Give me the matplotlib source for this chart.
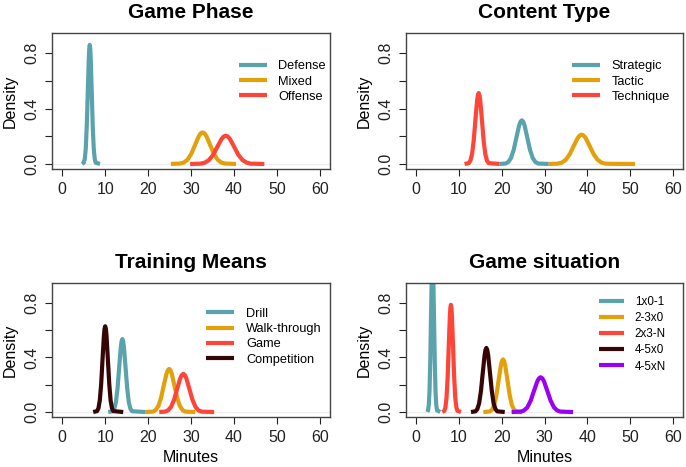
import numpy as np
import matplotlib
matplotlib.use('Agg')
import matplotlib.pyplot as plt

plt.rcParams['font.family'] = ['Liberation Sans', 'DejaVu Sans']

TEAL = '#5aa3ad'
ORANGE = '#e2a00b'
RED = '#ff4438'
DARK = '#360606'
PURPLE = '#9a00f5'

# ---- density curves (x in minutes, y density) ----

# Game Phase
defense_x = [4.6, 5.02, 5.25, 5.48, 5.71, 5.94, 6.17, 6.29, 6.4, 6.52, 6.63, 6.86, 7.09, 7.32, 7.55, 7.78, 8.8]
defense_y = [0, .009, .038, .116, .280, .522, .759, .833, .86, .833, .759, .522, .280, .116, .038, .009, 0]
mixed_x = [25.3, 27.45, 28.33, 29.2, 30.08, 30.95, 31.83, 32.26, 32.7, 33.14, 33.58, 34.45, 35.33, 36.2, 37.08, 37.95, 40.5]
mixed_y = [0, .003, .010, .031, .074, .138, .201, .221, .228, .221, .201, .138, .074, .031, .010, .003, 0]
offense_x = [29.8, 32.22, 33.2, 34.18, 35.16, 36.14, 37.12, 37.61, 38.1, 38.59, 39.08, 40.06, 41.04, 42.02, 43.0, 43.98, 47.1]
offense_y = [0, .002, .009, .028, .066, .124, .180, .198, .204, .198, .180, .124, .066, .028, .009, .002, 0]

# Content Type
strategic_x = [19.5, 20.89, 21.53, 22.16, 22.8, 23.43, 24.07, 24.38, 24.7, 25.02, 25.34, 25.97, 26.61, 27.24, 27.88, 28.51, 31.0]
strategic_y = [0, .003, .014, .043, .102, .191, .278, .305, .315, .305, .278, .191, .102, .043, .014, .003, 0]
tactic_x = [31.0, 33.06, 34.0, 34.94, 35.88, 36.82, 37.76, 38.23, 38.7, 39.17, 39.64, 40.58, 41.52, 42.46, 43.4, 44.34, 46.0, 51.2]
tactic_y = [0, .002, .009, .029, .069, .129, .187, .205, .212, .205, .187, .129, .069, .029, .009, .002, .001, 0]
technique_x = [11.3, 12.26, 12.65, 13.04, 13.43, 13.82, 14.21, 14.4, 14.6, 14.8, 14.99, 15.38, 15.77, 16.16, 16.55, 16.94, 19.5]
technique_y = [0, .006, .023, .069, .166, .311, .452, .496, .512, .496, .452, .311, .166, .069, .023, .006, 0]

# Training Means
drill_x = [10.7, 11.75, 12.13, 12.5, 12.88, 13.25, 13.63, 13.81, 14.0, 14.19, 14.38, 14.75, 15.13, 15.5, 15.88, 16.25, 19.3]
drill_y = [0, .006, .024, .072, .174, .325, .472, .518, .535, .518, .472, .325, .174, .072, .024, .006, 0]
walk_x = [19.3, 21.12, 21.75, 22.38, 23.01, 23.64, 24.27, 24.59, 24.9, 25.22, 25.53, 26.16, 26.79, 27.42, 28.05, 28.68, 31.0]
walk_y = [0, .003, .014, .043, .103, .192, .279, .306, .316, .306, .279, .192, .103, .043, .014, .003, 0]
game_x = [22.6, 23.94, 24.65, 25.36, 26.07, 26.78, 27.49, 27.85, 28.2, 28.56, 28.91, 29.62, 30.33, 31.04, 31.75, 32.46, 35.4]
game_y = [0, .003, .012, .038, .091, .170, .247, .271, .28, .271, .247, .170, .091, .038, .012, .003, 0]
comp_x = [7.2, 8.11, 8.43, 8.74, 9.06, 9.37, 9.69, 9.84, 10.0, 10.16, 10.32, 10.63, 10.95, 11.26, 11.58, 11.89, 14.2]
comp_y = [0, .007, .028, .085, .204, .382, .555, .609, .629, .609, .555, .382, .204, .085, .028, .007, 0]

# Game situation
s1_x = [2.6, 2.75, 2.93, 3.1, 3.28, 3.45, 3.63, 3.71, 3.8, 3.89, 3.98, 4.15, 4.33, 4.5, 4.68, 4.85, 5.6]
s1_y = [0, .013, .051, .155, .374, .698, 1.014, 1.114, 1.15, 1.114, 1.014, .698, .374, .155, .051, .013, 0]
s2_x = [15.7, 17.21, 17.73, 18.24, 18.76, 19.27, 19.79, 20.04, 20.3, 20.56, 20.82, 21.33, 21.85, 22.36, 22.88, 23.39, 24.8]
s2_y = [0, .004, .017, .052, .125, .234, .340, .374, .386, .374, .340, .234, .125, .052, .017, .004, 0]
s3_x = [6.1, 6.57, 6.83, 7.08, 7.34, 7.59, 7.85, 7.97, 8.1, 8.23, 8.36, 8.61, 8.87, 9.12, 9.38, 9.63, 10.45]
s3_y = [0, .009, .035, .106, .255, .477, .693, .762, .786, .762, .693, .477, .255, .106, .035, .009, 0]
s4_x = [12.8, 13.85, 14.28, 14.7, 15.13, 15.55, 15.98, 16.19, 16.4, 16.61, 16.83, 17.25, 17.68, 18.1, 18.53, 18.95, 20.7]
s4_y = [0, .005, .021, .063, .153, .285, .415, .455, .47, .455, .415, .285, .153, .063, .021, .005, 0]
s5_x = [22.3, 24.42, 25.2, 25.98, 26.76, 27.54, 28.32, 28.71, 29.1, 29.49, 29.88, 30.66, 31.44, 32.22, 33.0, 33.78, 36.7]
s5_y = [0, .003, .011, .034, .083, .155, .225, .247, .255, .247, .225, .155, .083, .034, .011, .003, 0]

panels = [
    ('Game Phase', [('Defense', defense_x, defense_y, TEAL),
                    ('Mixed', mixed_x, mixed_y, ORANGE),
                    ('Offense', offense_x, offense_y, RED)]),
    ('Content Type', [('Strategic', strategic_x, strategic_y, TEAL),
                      ('Tactic', tactic_x, tactic_y, ORANGE),
                      ('Technique', technique_x, technique_y, RED)]),
    ('Training Means', [('Drill', drill_x, drill_y, TEAL),
                        ('Walk-through', walk_x, walk_y, ORANGE),
                        ('Game', game_x, game_y, RED),
                        ('Competition', comp_x, comp_y, DARK)]),
    ('Game situation', [('1x0-1', s1_x, s1_y, TEAL),
                        ('2-3x0', s2_x, s2_y, ORANGE),
                        ('2x3-N', s3_x, s3_y, RED),
                        ('4-5x0', s4_x, s4_y, DARK),
                        ('4-5xN', s5_x, s5_y, PURPLE)]),
]

# axes boxes in pixels (left, top, right, bottom) and legend anchors
W, H = 686, 467
boxes = [(52, 33, 330, 169), (406, 33, 683, 169), (52, 283, 330, 417), (406, 283, 683, 417)]
leg_anchor = [(0.672, 0.80), (0.60, 0.80), (0.555, 0.815), (0.695, 0.905)]
leg_size = [9.2, 9.2, 9.2, 8.4]
leg_space = [0.26, 0.26, 0.26, 0.36]

fig = plt.figure(figsize=(W / 100, H / 100), dpi=100)

for i, (title, series) in enumerate(panels):
    l, t, r, b = boxes[i]
    ax = fig.add_axes([l / W, 1 - b / H, (r - l) / W, (b - t) / H])
    ax.axhline(0, color='#eeeeee', lw=0.9, zorder=0)
    for name, xs, ys, col in series:
        ax.plot(xs, ys, color=col, lw=3.0, label=name, solid_capstyle='butt')
    ax.set_xlim(-2.4, 62.4)
    ax.set_ylim(-0.0364, 0.946)
    ax.set_xticks([0, 10, 20, 30, 40, 50, 60])
    ax.set_yticks([0, 0.2, 0.4, 0.6, 0.8])
    ax.set_yticklabels(['0.0', '', '0.4', '', '0.8'], rotation=90, va='center')
    ax.tick_params(direction='out', length=5, width=0.8, colors='#222222',
                   labelsize=11.5, pad=4)
    for sp in ax.spines.values():
        sp.set_color('#444444')
        sp.set_linewidth(1.0)
    ax.set_title(title, fontsize=15, fontweight='bold', pad=11)
    ax.set_ylabel('Density', fontsize=11.5, labelpad=5)
    if i >= 2:
        ax.set_xlabel('Minutes', fontsize=11.5, labelpad=4)
    ax.legend(loc='upper left', bbox_to_anchor=leg_anchor[i], frameon=False,
              fontsize=leg_size[i], borderpad=0, borderaxespad=0,
              handlelength=2.2, handletextpad=0.9, labelspacing=leg_space[i])

plt.savefig('out.png', dpi=100)
